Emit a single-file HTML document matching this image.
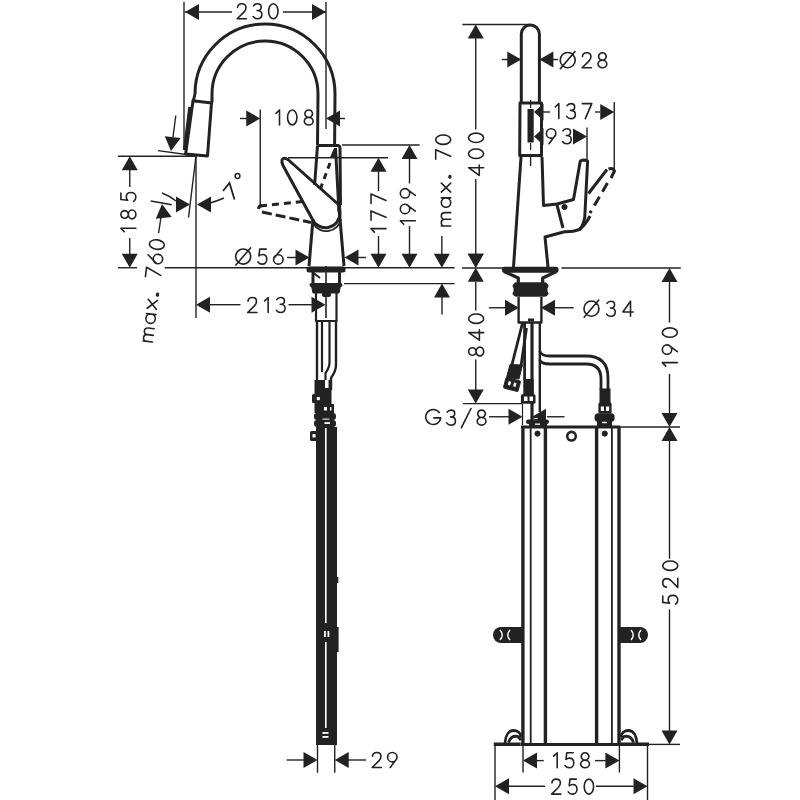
<!DOCTYPE html>
<html><head><meta charset="utf-8"><style>
html,body{margin:0;padding:0;background:#fff;}
svg{display:block;}
text{font-family:"Liberation Sans",sans-serif;fill:#222;stroke:none;}
</style></head><body>
<svg width="800" height="800" viewBox="0 0 800 800" stroke="#222" stroke-linecap="butt" stroke-linejoin="round">
<rect x="0" y="0" width="800" height="800" fill="#fff" stroke="none"/>
<line x1="184" y1="2" x2="184" y2="150" stroke-width="1.4" />
<line x1="326" y1="2" x2="326" y2="129" stroke-width="1.4" />
<line x1="185" y1="12" x2="232" y2="12" stroke-width="1.4" />
<line x1="283" y1="12" x2="326" y2="12" stroke-width="1.4" />
<polygon points="185.00,12.00 199.00,4.00 199.00,20.00" fill="#222" stroke="none"/>
<polygon points="326.00,12.00 312.00,20.00 312.00,4.00" fill="#222" stroke="none"/>
<g transform="translate(237.00 18.75) rotate(0)" fill="none" stroke="#222" stroke-width="1.60" stroke-linecap="round" stroke-linejoin="round"><path transform="translate(0.00 0)" d="M0.5,-11.2 C0.7,-13.6 2.5,-15 4.8,-15 C7.3,-15 9,-13.3 9,-11 C9,-9.3 8.2,-8 6.9,-6.6 L0.2,0 L9.4,0"/><path transform="translate(16.20 0)" d="M0.4,-12.9 C1.2,-14.3 2.6,-15 4.2,-15 C6.5,-15 8,-13.6 8,-11.6 C8,-9.5 6.5,-8.2 3.9,-8.2 C6.8,-8.2 8.7,-6.6 8.7,-4.2 C8.7,-1.6 6.7,0 4.2,0 C2.5,0 1,-0.7 0,-2.2"/><path transform="translate(31.60 0)" d="M4.7,-15 A4.7,7.5 0 1 0 4.7,0 A4.7,7.5 0 1 0 4.7,-15 Z"/></g>
<path d="M195,94 A70,70 0 0 1 335,94 L334.6,145" fill="none" stroke-width="3.0" />
<path d="M193,102 L195,94" fill="none" stroke-width="3.0" />
<path d="M212,102.5 L212,94 A53,53 0 0 1 318,94 L317.5,145" fill="none" stroke-width="3.0" />
<polygon points="193,100.8 211.5,103 207.5,156 185.6,154" fill="none" stroke-width="3.0" />
<path d="M190.4,107 L185,150" fill="none" stroke-width="4.2" />
<line x1="118" y1="156.3" x2="196" y2="156.3" stroke-width="1.4" />
<line x1="158" y1="150.6" x2="190" y2="155" stroke-width="1.4" />
<polygon points="171.00,151.00 164.77,136.13 180.65,138.08" fill="#222" stroke="none"/>
<line x1="175.8" y1="115.5" x2="173" y2="137" stroke-width="1.4" />
<line x1="196" y1="156" x2="196" y2="318" stroke-width="1.4" />
<line x1="196" y1="156" x2="188.5" y2="217.5" stroke-width="1.4" />
<polygon points="190.00,204.50 176.00,212.50 176.00,196.50" fill="#222" stroke="none"/>
<path d="M162,193 Q170,196 176,201" fill="none" stroke-width="1.4" />
<polygon points="197.00,204.50 211.00,196.50 211.00,212.50" fill="#222" stroke="none"/>
<path d="M210,203 Q217,201 224,198" fill="none" stroke-width="1.4" />
<path d="M223,191 L229.5,183 L234.5,199.5" fill="none" stroke-width="1.8" stroke-linejoin="miter"/>
<circle cx="237.5" cy="176" r="2.4" fill="none" stroke-width="1.5"/>
<polygon points="162.00,204.00 171.65,216.92 155.77,218.87" fill="#222" stroke="none"/>
<line x1="161" y1="217" x2="158.6" y2="233" stroke-width="1.4" />
<line x1="150.75" y1="201" x2="171.75" y2="204.75" stroke-width="1.4" />
<g transform="translate(152.48 342.00) rotate(-83)" fill="none" stroke="#222" stroke-width="1.60" stroke-linecap="round" stroke-linejoin="round"><path transform="translate(0.00 0)" d="M0,0 L0,-9.4 M0,-5.8 C0,-8.4 1.4,-9.4 3.35,-9.4 C5.4,-9.4 6.7,-8.3 6.7,-5.8 L6.7,0 M6.7,-5.8 C6.7,-8.4 8.1,-9.4 10.05,-9.4 C12.1,-9.4 13.4,-8.3 13.4,-5.8 L13.4,0"/><path transform="translate(18.22 0)" d="M0.00,-4.7 A4.7,4.7 0 1 0 9.40,-4.7 A4.7,4.7 0 1 0 0.00,-4.7 Z M9.4,-9.4 L9.4,0"/><path transform="translate(32.84 0)" d="M0,-9.4 L9,0 M9,-9.4 L0,0"/><path transform="translate(46.66 0)" d="M0.9,-1.6 A0.9,0.9 0 1 1 0.9,0 A0.9,0.9 0 1 1 0.9,-1.6 Z"/><path transform="translate(64.09 0)" d="M0,-15 L9.4,-15 L3,0"/><path transform="translate(78.31 0)" d="M7.7,-15 L0.4,-6.0 M0.00,-4.7 A4.7,4.7 0 1 0 9.40,-4.7 A4.7,4.7 0 1 0 0.00,-4.7 Z"/><path transform="translate(92.53 0)" d="M4.7,-15 A4.7,7.5 0 1 0 4.7,0 A4.7,7.5 0 1 0 4.7,-15 Z"/></g>
<line x1="129.75" y1="168" x2="129.75" y2="187" stroke-width="1.4" />
<line x1="129.75" y1="238" x2="129.75" y2="255" stroke-width="1.4" />
<polygon points="129.75,156.30 137.75,170.30 121.75,170.30" fill="#222" stroke="none"/>
<polygon points="129.75,267.75 121.75,253.75 137.75,253.75" fill="#222" stroke="none"/>
<line x1="118" y1="267.75" x2="137" y2="267.75" stroke-width="1.4" />
<g transform="translate(135.88 232.00) rotate(-90)" fill="none" stroke="#222" stroke-width="1.60" stroke-linecap="round" stroke-linejoin="round"><path transform="translate(0.00 0)" d="M0.3,-11.6 L3.8,-15 L3.8,0"/><path transform="translate(13.05 0)" d="M4.5,-15 A3.8,3.7 0 1 0 4.5,-7.6 A3.8,3.7 0 1 0 4.5,-15 Z M4.5,-7.6 A4.4,3.8 0 1 0 4.5,0 A4.4,3.8 0 1 0 4.5,-7.6 Z"/><path transform="translate(30.50 0)" d="M8.4,-15 L2,-15 L1.2,-8.2 C2.2,-9.1 3.5,-9.6 4.8,-9.6 C7.3,-9.6 9,-7.6 9,-4.8 C9,-1.9 7.1,0 4.5,0 C2.7,0 1.2,-0.8 0.2,-2.2"/></g>
<line x1="164.75" y1="267.75" x2="454.6" y2="267.75" stroke-width="1.4" />
<line x1="260.25" y1="109.5" x2="260.25" y2="206" stroke-width="1.4" />
<line x1="240" y1="118.5" x2="247" y2="118.5" stroke-width="1.4" />
<polygon points="260.25,118.50 246.25,126.50 246.25,110.50" fill="#222" stroke="none"/>
<g transform="translate(275.70 124.95) rotate(0)" fill="none" stroke="#222" stroke-width="1.60" stroke-linecap="round" stroke-linejoin="round"><path transform="translate(0.00 0)" d="M0.3,-11.6 L3.8,-15 L3.8,0"/><path transform="translate(11.85 0)" d="M4.7,-15 A4.7,7.5 0 1 0 4.7,0 A4.7,7.5 0 1 0 4.7,-15 Z"/><path transform="translate(28.50 0)" d="M4.5,-15 A3.8,3.7 0 1 0 4.5,-7.6 A3.8,3.7 0 1 0 4.5,-15 Z M4.5,-7.6 A4.4,3.8 0 1 0 4.5,0 A4.4,3.8 0 1 0 4.5,-7.6 Z"/></g>
<polygon points="326.00,118.50 340.00,110.50 340.00,126.50" fill="#222" stroke="none"/>
<line x1="340" y1="118.5" x2="345" y2="118.5" stroke-width="1.4" />
<line x1="342" y1="145" x2="419.6" y2="145" stroke-width="1.4" />
<line x1="288" y1="157.75" x2="388" y2="157.75" stroke-width="1.4" />
<line x1="344" y1="283.6" x2="454.6" y2="283.6" stroke-width="1.4" />
<polygon points="442.00,283.60 450.00,297.60 434.00,297.60" fill="#222" stroke="none"/>
<line x1="442" y1="297" x2="442" y2="314.5" stroke-width="1.4" />
<path d="M317.5,145.5 L338,145.5 Q340,146 340,148 L340.5,205" fill="none" stroke-width="3.0" />
<path d="M314.6,185 L317.5,145.5" fill="none" stroke-width="3.0" />
<path d="M313,219 L309,266" fill="none" stroke-width="3.0" />
<path d="M338.8,205 L344,266" fill="none" stroke-width="3.0" />
<path d="M335.5,148 L339,212" fill="none" stroke-width="3.0" />
<path d="M339,205 L288.5,160 Q283.5,156.5 282,160 Q281.5,162.5 283,165.5 L312,218.5 A14.5,14.5 0 0 0 340,213 L339.5,205" fill="none" stroke-width="3.0" />
<path d="M313.5,224 A15,15 0 0 0 341,219" fill="none" stroke-width="1.8" />
<path d="M330,163 L320,190" fill="none" stroke-width="3.0" stroke-dasharray="6,5"/>
<polygon points="334.5,148 337,157.5 330.5,157.5" fill="#222"/>
<path d="M260,206 L303,201.5" fill="none" stroke-width="3.0" stroke-dasharray="7,5"/>
<path d="M262,212 L311,222.5" fill="none" stroke-width="3.0" stroke-dasharray="10,4"/>
<path d="M258.5,209 Q259,205 262,206" fill="none" stroke-width="3.0" />
<polygon points="378.50,157.75 386.50,171.75 370.50,171.75" fill="#222" stroke="none"/>
<line x1="378.5" y1="171" x2="378.5" y2="191" stroke-width="1.4" />
<line x1="378.5" y1="236" x2="378.5" y2="254" stroke-width="1.4" />
<polygon points="378.50,267.75 370.50,253.75 386.50,253.75" fill="#222" stroke="none"/>
<g transform="translate(386.00 232.40) rotate(-90)" fill="none" stroke="#222" stroke-width="1.60" stroke-linecap="round" stroke-linejoin="round"><path transform="translate(0.00 0)" d="M0.3,-11.6 L3.8,-15 L3.8,0"/><path transform="translate(12.10 0)" d="M0,-15 L9.4,-15 L3,0"/><path transform="translate(29.00 0)" d="M0,-15 L9.4,-15 L3,0"/></g>
<polygon points="409.50,145.00 417.50,159.00 401.50,159.00" fill="#222" stroke="none"/>
<line x1="409.5" y1="158" x2="409.5" y2="183.5" stroke-width="1.4" />
<line x1="409.5" y1="226" x2="409.5" y2="254" stroke-width="1.4" />
<polygon points="409.50,267.75 401.50,253.75 417.50,253.75" fill="#222" stroke="none"/>
<g transform="translate(415.32 224.50) rotate(-90)" fill="none" stroke="#222" stroke-width="1.60" stroke-linecap="round" stroke-linejoin="round"><path transform="translate(0.00 0)" d="M0.3,-11.6 L3.8,-15 L3.8,0"/><path transform="translate(10.85 0)" d="M0.00,-10.3 A4.7,4.7 0 1 0 9.40,-10.3 A4.7,4.7 0 1 0 0.00,-10.3 Z M9.1,-8.8 L2.6,0"/><path transform="translate(26.50 0)" d="M0.00,-10.3 A4.7,4.7 0 1 0 9.40,-10.3 A4.7,4.7 0 1 0 0.00,-10.3 Z M9.1,-8.8 L2.6,0"/></g>
<line x1="441.85" y1="236" x2="441.85" y2="254" stroke-width="1.4" />
<polygon points="441.85,267.75 433.85,253.75 449.85,253.75" fill="#222" stroke="none"/>
<g transform="translate(450.70 226.00) rotate(-90)" fill="none" stroke="#222" stroke-width="1.60" stroke-linecap="round" stroke-linejoin="round"><path transform="translate(0.00 0)" d="M0,0 L0,-9.4 M0,-5.8 C0,-8.4 1.4,-9.4 3.35,-9.4 C5.4,-9.4 6.7,-8.3 6.7,-5.8 L6.7,0 M6.7,-5.8 C6.7,-8.4 8.1,-9.4 10.05,-9.4 C12.1,-9.4 13.4,-8.3 13.4,-5.8 L13.4,0"/><path transform="translate(18.77 0)" d="M0.00,-4.7 A4.7,4.7 0 1 0 9.40,-4.7 A4.7,4.7 0 1 0 0.00,-4.7 Z M9.4,-9.4 L9.4,0"/><path transform="translate(33.93 0)" d="M0,-9.4 L9,0 M9,-9.4 L0,0"/><path transform="translate(48.30 0)" d="M0.9,-1.6 A0.9,0.9 0 1 1 0.9,0 A0.9,0.9 0 1 1 0.9,-1.6 Z"/><path transform="translate(66.83 0)" d="M0,-15 L9.4,-15 L3,0"/><path transform="translate(81.60 0)" d="M4.7,-15 A4.7,7.5 0 1 0 4.7,0 A4.7,7.5 0 1 0 4.7,-15 Z"/></g>
<line x1="475.75" y1="37" x2="475.75" y2="129.5" stroke-width="1.4" />
<line x1="475.75" y1="179" x2="475.75" y2="254" stroke-width="1.4" />
<polygon points="475.75,267.75 467.75,253.75 483.75,253.75" fill="#222" stroke="none"/>
<polygon points="475.75,24.50 483.75,38.50 467.75,38.50" fill="#222" stroke="none"/>
<g transform="translate(483.55 175.60) rotate(-90)" fill="none" stroke="#222" stroke-width="1.60" stroke-linecap="round" stroke-linejoin="round"><path transform="translate(0.00 0)" d="M7.9,0 L7.9,-15 L0.3,-4.3 L10.6,-4.3"/><path transform="translate(17.15 0)" d="M4.7,-15 A4.7,7.5 0 1 0 4.7,0 A4.7,7.5 0 1 0 4.7,-15 Z"/><path transform="translate(33.10 0)" d="M4.7,-15 A4.7,7.5 0 1 0 4.7,0 A4.7,7.5 0 1 0 4.7,-15 Z"/></g>
<g transform="translate(235.50 264.15) rotate(0)" fill="none" stroke="#222" stroke-width="1.60" stroke-linecap="round" stroke-linejoin="round"><path transform="translate(0.00 0)" d="M0.20,-7.6 A7.5,7.6 0 1 0 15.20,-7.6 A7.5,7.6 0 1 0 0.20,-7.6 Z M0.4,0.9 L15,-16.2"/><path transform="translate(22.25 0)" d="M8.4,-15 L2,-15 L1.2,-8.2 C2.2,-9.1 3.5,-9.6 4.8,-9.6 C7.3,-9.6 9,-7.6 9,-4.8 C9,-1.9 7.1,0 4.5,0 C2.7,0 1.2,-0.8 0.2,-2.2"/><path transform="translate(38.10 0)" d="M7.7,-15 L0.4,-6.0 M0.00,-4.7 A4.7,4.7 0 1 0 9.40,-4.7 A4.7,4.7 0 1 0 0.00,-4.7 Z"/></g>
<line x1="287" y1="257.5" x2="296" y2="257.5" stroke-width="1.4" />
<polygon points="309.50,257.50 295.50,265.50 295.50,249.50" fill="#222" stroke="none"/>
<polygon points="344.50,257.50 358.50,249.50 358.50,265.50" fill="#222" stroke="none"/>
<line x1="357" y1="257.5" x2="366" y2="257.5" stroke-width="1.4" />
<rect x="306.5" y="266.5" width="39" height="6" fill="#222" stroke="none" rx="2.5"/>
<path d="M313,272 L313,283 M339.5,272 L339.5,283" fill="none" stroke-width="3" />
<line x1="326" y1="266" x2="326" y2="318" stroke-width="1.6" />
<line x1="313.5" y1="273" x2="320" y2="278" stroke-width="2" />
<rect x="309.5" y="283" width="33" height="4" fill="#222" stroke="none" rx="2"/>
<polygon points="311.5,286 340.5,286 339,293 313,293" fill="#222"/>
<rect x="322" y="292" width="9" height="5" fill="#222" stroke="none" rx="2"/>
<polyline points="316,293 316,321 336.5,321 336.5,293" fill="none" stroke-width="2.2" />
<g transform="translate(247.50 312.50) rotate(0)" fill="none" stroke="#222" stroke-width="1.60" stroke-linecap="round" stroke-linejoin="round"><path transform="translate(0.00 0)" d="M0.5,-11.2 C0.7,-13.6 2.5,-15 4.8,-15 C7.3,-15 9,-13.3 9,-11 C9,-9.3 8.2,-8 6.9,-6.6 L0.2,0 L9.4,0"/><path transform="translate(16.85 0)" d="M0.3,-11.6 L3.8,-15 L3.8,0"/><path transform="translate(28.90 0)" d="M0.4,-12.9 C1.2,-14.3 2.6,-15 4.2,-15 C6.5,-15 8,-13.6 8,-11.6 C8,-9.5 6.5,-8.2 3.9,-8.2 C6.8,-8.2 8.7,-6.6 8.7,-4.2 C8.7,-1.6 6.7,0 4.2,0 C2.5,0 1,-0.7 0,-2.2"/></g>
<line x1="210" y1="304.7" x2="240.5" y2="304.7" stroke-width="1.4" />
<line x1="288.5" y1="304.7" x2="312" y2="304.7" stroke-width="1.4" />
<polygon points="196.00,304.70 210.00,296.70 210.00,312.70" fill="#222" stroke="none"/>
<polygon points="325.50,304.70 311.50,312.70 311.50,296.70" fill="#222" stroke="none"/>
<path d="M317,321 L317,385" fill="none" stroke-width="2.4" />
<path d="M322,321 L322,372" fill="none" stroke-width="2.2" />
<path d="M329.5,321 L329.5,362 Q329.5,368 325.5,373 L325.5,388" fill="none" stroke-width="2.2" />
<path d="M336,321 L336,365 Q336,371 331,378 L331,390" fill="none" stroke-width="2.4" />
<rect x="314.5" y="380" width="17" height="33" fill="#222" stroke="none" />
<rect x="312" y="394" width="8" height="9" fill="#222" stroke="none" rx="1.5"/>
<rect x="316" y="404" width="18" height="10" fill="#222" stroke="none" />
<rect x="314" y="413" width="22" height="7" fill="#222" stroke="none" rx="3"/>
<rect x="314" y="420" width="22" height="7" fill="#222" stroke="none" rx="3"/>
<rect x="325" y="380" width="3.5" height="8" fill="#fff" stroke="none" />
<rect x="316.8" y="397" width="3" height="3.2" fill="#fff" stroke="none" />
<rect x="324" y="407" width="3" height="3.5" fill="#fff" stroke="none" />
<rect x="330" y="407" width="1.4" height="3.5" fill="#fff" stroke="none" />
<rect x="322.5" y="418.6" width="7" height="1" fill="#fff" stroke="none" />
<rect x="324.5" y="422.2" width="5.5" height="1.8" fill="#fff" stroke="none" />
<rect x="316" y="427" width="21" height="318" fill="#222" stroke="none" />
<rect x="325" y="428" width="1.6" height="195" fill="#fff" stroke="none" />
<rect x="325" y="642" width="1.6" height="86" fill="#fff" stroke="none" />
<rect x="337" y="577" width="1.3" height="6" fill="#222" stroke="none" />
<rect x="310" y="431" width="7" height="10" fill="#222" stroke="none" rx="1.5"/>
<rect x="312.5" y="434" width="3" height="3.5" fill="#fff" stroke="none" />
<rect x="337" y="627" width="1.6" height="25" fill="#222" stroke="none" />
<rect x="324" y="631" width="1.8" height="6" fill="#fff" stroke="none" />
<rect x="327.5" y="631" width="1.8" height="6" fill="#fff" stroke="none" />
<rect x="322.5" y="732" width="6" height="1.8" fill="#fff" stroke="none" />
<rect x="322.5" y="736" width="6" height="1.8" fill="#fff" stroke="none" />
<line x1="317.5" y1="745" x2="317.5" y2="772.75" stroke-width="1.4" />
<line x1="334.75" y1="745" x2="334.75" y2="772.75" stroke-width="1.4" />
<line x1="286.75" y1="760" x2="304" y2="760" stroke-width="1.4" />
<polygon points="317.50,760.00 303.50,768.00 303.50,752.00" fill="#222" stroke="none"/>
<polygon points="334.75,760.00 348.75,752.00 348.75,768.00" fill="#222" stroke="none"/>
<line x1="348" y1="760" x2="366" y2="760" stroke-width="1.4" />
<g transform="translate(372.00 767.50) rotate(0)" fill="none" stroke="#222" stroke-width="1.60" stroke-linecap="round" stroke-linejoin="round"><path transform="translate(0.00 0)" d="M0.5,-11.2 C0.7,-13.6 2.5,-15 4.8,-15 C7.3,-15 9,-13.3 9,-11 C9,-9.3 8.2,-8 6.9,-6.6 L0.2,0 L9.4,0"/><path transform="translate(15.60 0)" d="M0.00,-10.3 A4.7,4.7 0 1 0 9.40,-10.3 A4.7,4.7 0 1 0 0.00,-10.3 Z M9.1,-8.8 L2.6,0"/></g>
<line x1="462.4" y1="24.5" x2="530" y2="24.5" stroke-width="1.4" />
<path d="M521.3,102 L521.3,34 A9,9 0 0 1 539.4,34 L539.4,102" fill="none" stroke-width="3.0" />
<line x1="501.75" y1="59.5" x2="508" y2="59.5" stroke-width="1.4" />
<polygon points="521.30,59.50 507.30,67.50 507.30,51.50" fill="#222" stroke="none"/>
<polygon points="539.40,59.50 553.40,51.50 553.40,67.50" fill="#222" stroke="none"/>
<line x1="552" y1="59.5" x2="558" y2="59.5" stroke-width="1.4" />
<g transform="translate(560.00 67.73) rotate(0)" fill="none" stroke="#222" stroke-width="1.60" stroke-linecap="round" stroke-linejoin="round"><path transform="translate(0.00 0)" d="M0.20,-7.6 A7.5,7.6 0 1 0 15.20,-7.6 A7.5,7.6 0 1 0 0.20,-7.6 Z M0.4,0.9 L15,-16.2"/><path transform="translate(21.95 0)" d="M0.5,-11.2 C0.7,-13.6 2.5,-15 4.8,-15 C7.3,-15 9,-13.3 9,-11 C9,-9.3 8.2,-8 6.9,-6.6 L0.2,0 L9.4,0"/><path transform="translate(37.90 0)" d="M4.5,-15 A3.8,3.7 0 1 0 4.5,-7.6 A3.8,3.7 0 1 0 4.5,-15 Z M4.5,-7.6 A4.4,3.8 0 1 0 4.5,0 A4.4,3.8 0 1 0 4.5,-7.6 Z"/></g>
<polygon points="520,103 541.5,103 541.5,155.5 519.7,155.5" fill="none" stroke-width="3.0" />
<rect x="527.5" y="109" width="6.2" height="33.5" fill="#222" stroke="none" />
<line x1="530.6" y1="100" x2="530.6" y2="108" stroke-width="1.2" />
<line x1="530.6" y1="143" x2="530.6" y2="150" stroke-width="1.2" />
<line x1="530.6" y1="157" x2="530.6" y2="166" stroke-width="1.4" />
<polygon points="534.00,112.00 543.50,103.50 543.50,120.50" fill="#222" stroke="none"/>
<line x1="543" y1="112" x2="550" y2="112" stroke-width="1.4" />
<g transform="translate(555.00 118.60) rotate(0)" fill="none" stroke="#222" stroke-width="1.60" stroke-linecap="round" stroke-linejoin="round"><path transform="translate(0.00 0)" d="M0.3,-11.6 L3.8,-15 L3.8,0"/><path transform="translate(11.67 0)" d="M0.4,-12.9 C1.2,-14.3 2.6,-15 4.2,-15 C6.5,-15 8,-13.6 8,-11.6 C8,-9.5 6.5,-8.2 3.9,-8.2 C6.8,-8.2 8.7,-6.6 8.7,-4.2 C8.7,-1.6 6.7,0 4.2,0 C2.5,0 1,-0.7 0,-2.2"/><path transform="translate(27.35 0)" d="M0,-15 L9.4,-15 L3,0"/></g>
<line x1="595" y1="112" x2="600" y2="112" stroke-width="1.4" />
<polygon points="614.25,112.00 600.25,120.00 600.25,104.00" fill="#222" stroke="none"/>
<line x1="614.25" y1="102" x2="614.25" y2="170.5" stroke-width="1.4" />
<polygon points="534.00,136.50 543.50,128.00 543.50,145.00" fill="#222" stroke="none"/>
<g transform="translate(546.40 143.75) rotate(0)" fill="none" stroke="#222" stroke-width="1.60" stroke-linecap="round" stroke-linejoin="round"><path transform="translate(0.00 0)" d="M0.00,-10.3 A4.7,4.7 0 1 0 9.40,-10.3 A4.7,4.7 0 1 0 0.00,-10.3 Z M9.1,-8.8 L2.6,0"/><path transform="translate(16.10 0)" d="M0.4,-12.9 C1.2,-14.3 2.6,-15 4.2,-15 C6.5,-15 8,-13.6 8,-11.6 C8,-9.5 6.5,-8.2 3.9,-8.2 C6.8,-8.2 8.7,-6.6 8.7,-4.2 C8.7,-1.6 6.7,0 4.2,0 C2.5,0 1,-0.7 0,-2.2"/></g>
<polygon points="587.00,136.40 573.00,144.40 573.00,128.40" fill="#222" stroke="none"/>
<line x1="587" y1="127.6" x2="587" y2="160" stroke-width="1.4" />
<path d="M521,157 L513.5,267" fill="none" stroke-width="3.0" />
<path d="M542,157 L543.5,205.5 L557,204 L573.5,199.5 L580.25,161.25 Q581,160 584,160 L587,160.5 Q588,161 587.5,163 L584.75,217.5 Q583,226 579.5,229.5 Q573,232 564.5,231.75 L545,237 L548,267" fill="none" stroke-width="3.0" />
<path d="M557,205 L563,228" fill="none" stroke-width="3.0" />
<circle cx="564.5" cy="207" r="2.6" fill="#222"/>
<path d="M590,216 Q586,224 579,230" fill="none" stroke-width="3.0" />
<path d="M588.5,193.5 L607,169.5" fill="none" stroke-width="3.0" />
<path d="M608.5,169 Q613,167.5 614.5,171 L611,178" fill="none" stroke-width="3.0" />
<path d="M607.5,183 L590,213" fill="none" stroke-width="3.0" stroke-dasharray="10,6"/>
<line x1="462" y1="268" x2="503" y2="268" stroke-width="1.4" />
<line x1="561.5" y1="268" x2="680.75" y2="268" stroke-width="1.4" />
<rect x="502" y="266.8" width="56.5" height="6" fill="#222" stroke="none" rx="2.5"/>
<path d="M504,271.5 L518.3,278 L518.3,283 M556.5,271.5 L542.7,278 L542.7,283" fill="none" stroke-width="3.2" />
<rect x="513.5" y="282.3" width="34" height="14.5" fill="#222" stroke="none" rx="3"/>
<rect x="512.5" y="284" width="36" height="4" fill="#222" stroke="none" rx="2"/>
<rect x="512.5" y="291.5" width="36" height="4" fill="#222" stroke="none" rx="2"/>
<polyline points="518.6,297 518.6,322.5 541.4,322.5 541.4,297" fill="none" stroke-width="2.4" />
<rect x="528" y="318.5" width="6" height="3" fill="#222" stroke="none" />
<line x1="488.9" y1="307.75" x2="506" y2="307.75" stroke-width="1.4" />
<polygon points="519.00,307.75 505.00,315.75 505.00,299.75" fill="#222" stroke="none"/>
<polygon points="541.00,307.75 555.00,299.75 555.00,315.75" fill="#222" stroke="none"/>
<line x1="554" y1="307.75" x2="573.75" y2="307.75" stroke-width="1.4" />
<g transform="translate(583.75 316.27) rotate(0)" fill="none" stroke="#222" stroke-width="1.60" stroke-linecap="round" stroke-linejoin="round"><path transform="translate(0.00 0)" d="M0.20,-7.6 A7.5,7.6 0 1 0 15.20,-7.6 A7.5,7.6 0 1 0 0.20,-7.6 Z M0.4,0.9 L15,-16.2"/><path transform="translate(22.83 0)" d="M0.4,-12.9 C1.2,-14.3 2.6,-15 4.2,-15 C6.5,-15 8,-13.6 8,-11.6 C8,-9.5 6.5,-8.2 3.9,-8.2 C6.8,-8.2 8.7,-6.6 8.7,-4.2 C8.7,-1.6 6.7,0 4.2,0 C2.5,0 1,-0.7 0,-2.2"/><path transform="translate(38.85 0)" d="M7.9,0 L7.9,-15 L0.3,-4.3 L10.6,-4.3"/></g>
<polygon points="475.75,267.75 467.75,253.75 483.75,253.75" fill="#222" stroke="none"/>
<polygon points="475.75,267.75 483.75,281.75 467.75,281.75" fill="#222" stroke="none"/>
<line x1="475.75" y1="282" x2="475.75" y2="310.4" stroke-width="1.4" />
<g transform="translate(483.68 356.00) rotate(-90)" fill="none" stroke="#222" stroke-width="1.60" stroke-linecap="round" stroke-linejoin="round"><path transform="translate(0.00 0)" d="M4.5,-15 A3.8,3.7 0 1 0 4.5,-7.6 A3.8,3.7 0 1 0 4.5,-15 Z M4.5,-7.6 A4.4,3.8 0 1 0 4.5,0 A4.4,3.8 0 1 0 4.5,-7.6 Z"/><path transform="translate(15.50 0)" d="M7.9,0 L7.9,-15 L0.3,-4.3 L10.6,-4.3"/><path transform="translate(32.60 0)" d="M4.7,-15 A4.7,7.5 0 1 0 4.7,0 A4.7,7.5 0 1 0 4.7,-15 Z"/></g>
<line x1="475.75" y1="359.4" x2="475.75" y2="390.5" stroke-width="1.4" />
<polygon points="475.75,403.60 467.75,389.60 483.75,389.60" fill="#222" stroke="none"/>
<line x1="463" y1="403.6" x2="522" y2="403.6" stroke-width="1.4" />
<line x1="524.6" y1="323" x2="524.6" y2="380" stroke-width="2.8" />
<line x1="532" y1="323" x2="532" y2="421" stroke-width="3.2" />
<line x1="539.8" y1="323" x2="539.8" y2="412" stroke-width="2.4" />
<path d="M539.8,351 Q541,356 550,356 L586,356 Q608,356 608,378 L608,390" fill="none" stroke-width="2.8" />
<path d="M539.8,360 Q541,364 550,364 L586,364 Q601,364 601,379 L601,390" fill="none" stroke-width="2.8" />
<path d="M522.5,323 L511.5,366.5" fill="none" stroke-width="2.8" />
<path d="M526.5,328 L521,366" fill="none" stroke-width="2.8" />
<polygon points="510,364.5 522.5,365 519,379 506.5,377.5" fill="#222"/>
<g transform="rotate(15 512 384.5)"><rect x="504.5" y="379" width="15" height="11" fill="#222" rx="1.5"/><rect x="507.5" y="381.5" width="3.5" height="5" fill="#fff"/><rect x="513" y="381.5" width="3.5" height="5" fill="#fff"/></g>
<rect x="523.3" y="379" width="10.4" height="16" fill="#222" stroke="none" />
<rect x="520.9" y="394.3" width="14.6" height="9.4" fill="#222" stroke="none" rx="1.5"/>
<rect x="524" y="396.5" width="3.5" height="4.5" fill="#fff" stroke="none" />
<rect x="529.5" y="396.5" width="3.5" height="4.5" fill="#fff" stroke="none" />
<line x1="522.5" y1="404" x2="522.5" y2="425" stroke-width="1.2" />
<g transform="translate(425.70 425.10) rotate(0)" fill="none" stroke="#222" stroke-width="1.60" stroke-linecap="round" stroke-linejoin="round"><path transform="translate(0.00 0)" d="M13.6,-12.6 A7.5,7.5 0 1 0 15,-7.2 L8.2,-7.2"/><path transform="translate(21.05 0)" d="M0.4,-12.9 C1.2,-14.3 2.6,-15 4.2,-15 C6.5,-15 8,-13.6 8,-11.6 C8,-9.5 6.5,-8.2 3.9,-8.2 C6.8,-8.2 8.7,-6.6 8.7,-4.2 C8.7,-1.6 6.7,0 4.2,0 C2.5,0 1,-0.7 0,-2.2"/><path transform="translate(35.70 0)" d="M0,2.6 L9.6,-16.6"/><path transform="translate(51.35 0)" d="M4.5,-15 A3.8,3.7 0 1 0 4.5,-7.6 A3.8,3.7 0 1 0 4.5,-15 Z M4.5,-7.6 A4.4,3.8 0 1 0 4.5,0 A4.4,3.8 0 1 0 4.5,-7.6 Z"/></g>
<line x1="489" y1="416.75" x2="509" y2="416.75" stroke-width="1.4" />
<polygon points="522.50,416.75 508.50,424.75 508.50,408.75" fill="#222" stroke="none"/>
<polygon points="532.00,416.75 546.00,408.75 546.00,424.75" fill="#222" stroke="none"/>
<line x1="547" y1="416.75" x2="564.5" y2="416.75" stroke-width="1.4" />
<rect x="526" y="419.5" width="23" height="4.5" fill="#222" stroke="none" rx="2.2"/>
<rect x="529" y="423" width="18" height="5" fill="#222" stroke="none" />
<rect x="535" y="423.5" width="5" height="1.3" fill="#fff" stroke="none" />
<ellipse cx="536" cy="418.5" rx="2.2" ry="1" fill="#fff"/>
<rect x="599.5" y="388.5" width="11" height="14.5" fill="#222" stroke="none" />
<rect x="598.4" y="402.5" width="13.2" height="11" fill="#222" stroke="none" rx="1.5"/>
<rect x="600.8" y="406.5" width="3.2" height="4.5" fill="#fff" stroke="none" />
<rect x="606" y="406.5" width="3.2" height="4.5" fill="#fff" stroke="none" />
<rect x="594.6" y="413.3" width="20" height="8.5" fill="#222" stroke="none" rx="3.5"/>
<rect x="597" y="421" width="15" height="6" fill="#222" stroke="none" />
<rect x="602" y="421.8" width="5" height="1.4" fill="#fff" stroke="none" />
<line x1="521" y1="427" x2="620" y2="427" stroke-width="3" />
<line x1="522.9" y1="427" x2="522.9" y2="745" stroke-width="3.4" />
<line x1="530.7" y1="427" x2="530.7" y2="745" stroke-width="1.8" />
<line x1="545.4" y1="427" x2="545.4" y2="745" stroke-width="3.4" />
<line x1="596.6" y1="427" x2="596.6" y2="745" stroke-width="3.4" />
<line x1="611.9" y1="427" x2="611.9" y2="745" stroke-width="1.8" />
<line x1="619" y1="427" x2="619" y2="745" stroke-width="3.4" />
<circle cx="537.5" cy="433.6" r="2.6" fill="#222"/>
<circle cx="604.75" cy="433.6" r="2.6" fill="#222"/>
<circle cx="571.5" cy="436.2" r="4.3" fill="none" stroke-width="2.6"/>
<path d="M523,627 L501,627 A8,8 0 0 0 501,643 L523,643 Z" fill="#222" stroke-width="0" />
<path d="M500,630 Q504.5,635 500,640 M510,630 Q505.5,635 510,640" fill="none" stroke-width="1.4" stroke="#fff"/>
<path d="M618,627 L640,627 A8,8 0 0 1 640,643 L618,643 Z" fill="#222" stroke-width="0" />
<path d="M641,630 Q636.5,635 641,640 M631,630 Q635.5,635 631,640" fill="none" stroke-width="1.4" stroke="#fff"/>
<line x1="521" y1="744.4" x2="649" y2="744.4" stroke-width="3" />
<rect x="493.75" y="742.5" width="27" height="3.5" fill="#222" stroke="none" />
<rect x="619" y="742.5" width="30" height="3.5" fill="#222" stroke="none" />
<path d="M505,743 C505.5,735 509,730.5 513.5,730.5 C517.5,730.5 521,733 521,737 M508.5,742.5 C510,738 513.5,735.5 518,736.5 L521,740" fill="none" stroke-width="2.8" />
<path d="M637,743 C636.5,735 633,730.5 628.5,730.5 C624.5,730.5 621,733 621,737 M633.5,742.5 C632,738 628.5,735.5 624,736.5 L621,740" fill="none" stroke-width="2.8" />
<line x1="649" y1="744.4" x2="680" y2="744.4" stroke-width="1.4" />
<polygon points="669.50,268.00 677.50,282.00 661.50,282.00" fill="#222" stroke="none"/>
<line x1="669.5" y1="282" x2="669.5" y2="322.6" stroke-width="1.4" />
<g transform="translate(677.33 366.40) rotate(-90)" fill="none" stroke="#222" stroke-width="1.60" stroke-linecap="round" stroke-linejoin="round"><path transform="translate(0.00 0)" d="M0.3,-11.6 L3.8,-15 L3.8,0"/><path transform="translate(12.15 0)" d="M0.00,-10.3 A4.7,4.7 0 1 0 9.40,-10.3 A4.7,4.7 0 1 0 0.00,-10.3 Z M9.1,-8.8 L2.6,0"/><path transform="translate(29.10 0)" d="M4.7,-15 A4.7,7.5 0 1 0 4.7,0 A4.7,7.5 0 1 0 4.7,-15 Z"/></g>
<line x1="669.5" y1="374" x2="669.5" y2="414" stroke-width="1.4" />
<polygon points="669.50,427.00 661.50,413.00 677.50,413.00" fill="#222" stroke="none"/>
<line x1="620" y1="427" x2="680" y2="427" stroke-width="1.4" />
<polygon points="669.50,427.00 677.50,441.00 661.50,441.00" fill="#222" stroke="none"/>
<line x1="669.5" y1="441" x2="669.5" y2="558.75" stroke-width="1.4" />
<g transform="translate(677.75 604.40) rotate(-90)" fill="none" stroke="#222" stroke-width="1.60" stroke-linecap="round" stroke-linejoin="round"><path transform="translate(0.00 0)" d="M8.4,-15 L2,-15 L1.2,-8.2 C2.2,-9.1 3.5,-9.6 4.8,-9.6 C7.3,-9.6 9,-7.6 9,-4.8 C9,-1.9 7.1,0 4.5,0 C2.7,0 1.2,-0.8 0.2,-2.2"/><path transform="translate(16.80 0)" d="M0.5,-11.2 C0.7,-13.6 2.5,-15 4.8,-15 C7.3,-15 9,-13.3 9,-11 C9,-9.3 8.2,-8 6.9,-6.6 L0.2,0 L9.4,0"/><path transform="translate(34.00 0)" d="M4.7,-15 A4.7,7.5 0 1 0 4.7,0 A4.7,7.5 0 1 0 4.7,-15 Z"/></g>
<line x1="669.5" y1="609.4" x2="669.5" y2="731" stroke-width="1.4" />
<polygon points="669.50,744.40 661.50,730.40 677.50,730.40" fill="#222" stroke="none"/>
<line x1="523" y1="745" x2="523" y2="772.5" stroke-width="1.4" />
<line x1="619.4" y1="745" x2="619.4" y2="772.5" stroke-width="1.4" />
<polygon points="523.00,760.60 537.00,752.60 537.00,768.60" fill="#222" stroke="none"/>
<line x1="537" y1="760.6" x2="543.75" y2="760.6" stroke-width="1.4" />
<g transform="translate(553.40 767.73) rotate(0)" fill="none" stroke="#222" stroke-width="1.60" stroke-linecap="round" stroke-linejoin="round"><path transform="translate(0.00 0)" d="M0.3,-11.6 L3.8,-15 L3.8,0"/><path transform="translate(11.37 0)" d="M8.4,-15 L2,-15 L1.2,-8.2 C2.2,-9.1 3.5,-9.6 4.8,-9.6 C7.3,-9.6 9,-7.6 9,-4.8 C9,-1.9 7.1,0 4.5,0 C2.7,0 1.2,-0.8 0.2,-2.2"/><path transform="translate(27.15 0)" d="M4.5,-15 A3.8,3.7 0 1 0 4.5,-7.6 A3.8,3.7 0 1 0 4.5,-15 Z M4.5,-7.6 A4.4,3.8 0 1 0 4.5,0 A4.4,3.8 0 1 0 4.5,-7.6 Z"/></g>
<line x1="595" y1="760.6" x2="605.6" y2="760.6" stroke-width="1.4" />
<polygon points="619.40,760.60 605.40,768.60 605.40,752.60" fill="#222" stroke="none"/>
<line x1="495" y1="745" x2="495" y2="800" stroke-width="1.4" />
<line x1="647.5" y1="745" x2="647.5" y2="800" stroke-width="1.4" />
<polygon points="495.00,786.25 509.00,778.25 509.00,794.25" fill="#222" stroke="none"/>
<line x1="508.75" y1="786.25" x2="545" y2="786.25" stroke-width="1.4" />
<g transform="translate(551.40 794.10) rotate(0)" fill="none" stroke="#222" stroke-width="1.60" stroke-linecap="round" stroke-linejoin="round"><path transform="translate(0.00 0)" d="M0.5,-11.2 C0.7,-13.6 2.5,-15 4.8,-15 C7.3,-15 9,-13.3 9,-11 C9,-9.3 8.2,-8 6.9,-6.6 L0.2,0 L9.4,0"/><path transform="translate(16.60 0)" d="M8.4,-15 L2,-15 L1.2,-8.2 C2.2,-9.1 3.5,-9.6 4.8,-9.6 C7.3,-9.6 9,-7.6 9,-4.8 C9,-1.9 7.1,0 4.5,0 C2.7,0 1.2,-0.8 0.2,-2.2"/><path transform="translate(32.80 0)" d="M4.7,-15 A4.7,7.5 0 1 0 4.7,0 A4.7,7.5 0 1 0 4.7,-15 Z"/></g>
<line x1="596" y1="786.25" x2="633.75" y2="786.25" stroke-width="1.4" />
<polygon points="647.50,786.25 633.50,794.25 633.50,778.25" fill="#222" stroke="none"/>
</svg>
</body></html>
